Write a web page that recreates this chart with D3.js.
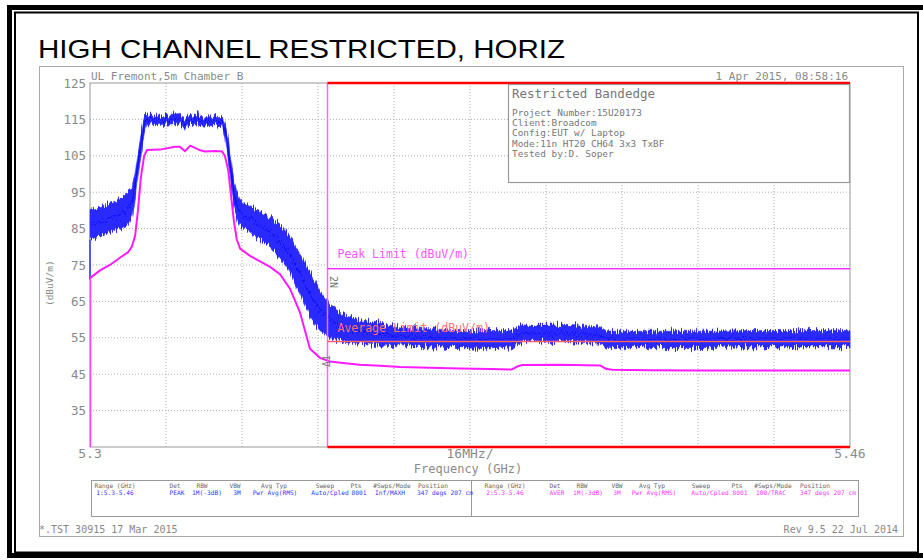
<!DOCTYPE html>
<html>
<head>
<meta charset="utf-8">
<script src="https://cdn.jsdelivr.net/npm/d3@7"></script>
<style>
  body { margin: 0; background: #fff; }
  .mono { font-family: "DejaVu Sans Mono", "Liberation Mono", monospace; }
</style>
</head>
<body>
<svg id="chart" width="923" height="560"></svg>
<script>
// frequency points (GHz)
var freqs = [5.3, 5.3021, 5.3042, 5.3063, 5.308, 5.3088, 5.3095, 5.3101, 5.3107, 5.3114, 5.312,
  5.3147, 5.3179, 5.3189, 5.32, 5.3211, 5.3232, 5.3242, 5.3263, 5.3278, 5.3284, 5.3291, 5.3297,
  5.3303, 5.3309, 5.3316, 5.3337, 5.3358, 5.3379, 5.34, 5.3421, 5.3442, 5.3463, 5.3484, 5.3505,
  5.3537, 5.3568, 5.3611, 5.3653, 5.3716, 5.3779, 5.3842, 5.3888, 5.3901, 5.391, 5.399, 5.4074,
  5.4086, 5.4099, 5.4179, 5.4284, 5.439, 5.4495, 5.46];

// peak trace (blue) envelope, dBuV/m
var peakLow = [82, 83, 84, 85, 86, 88, 93, 99, 105, 111, 113.5,
  113.6, 113.8, 113.8, 112, 114, 113.6, 113.4, 113.2, 113, 110, 104, 97,
  91, 88, 86, 84, 82, 80, 77, 73, 67, 61, 57, 55,
  54, 53.5, 53, 52.8, 52.5, 52.3, 52, 52.2, 53.5, 54, 54, 53.5,
  52.5, 52.3, 52.3, 52.3, 52.5, 52.5, 52.5];
var peakHigh = [90, 91, 92, 93, 95, 96, 100, 106, 111, 115.5, 116.2,
  116.2, 116.5, 116.6, 114.5, 116.6, 116.2, 115.8, 115.6, 115.5, 114, 110, 104,
  98, 95, 93, 91, 90, 88, 86, 83, 78, 73, 68, 64,
  61, 60, 59, 58, 57.5, 57, 57, 57, 58, 58.5, 58.5, 58,
  57, 56.8, 56.8, 56.8, 57, 57, 57];

// average trace (magenta), dBuV/m
var avgTrace = [71.4, 73.5, 75, 77, 78.5, 80, 83, 90, 99, 105, 106.6,
  106.7, 107.5, 107.5, 106.3, 107.8, 106.5, 106.2, 106.3, 106.2, 105, 101, 94,
  87, 82, 79.5, 77.5, 76, 74.5, 72.5, 68.5, 62, 52, 49.5, 48.5,
  48, 47.6, 47.3, 47, 46.8, 46.6, 46.4, 46.3, 47.2, 47.5, 47.6, 47.4,
  46.5, 46.2, 46.1, 46, 46, 46, 46];

var yTicks = [125, 115, 105, 95, 85, 75, 65, 55, 45, 35];
var xGrid = [5.316, 5.332, 5.348, 5.364, 5.38, 5.396, 5.412, 5.428, 5.444];

var peakLimit = 74;
var avgLimit = 54;
var bandStart = 5.35;
var bandEnd = 5.46;

var infoLines = ['Project Number:15U20173', 'Client:Broadcom', 'Config:EUT w/ Laptop',
  'Mode:11n HT20 CH64 3x3 TxBF', 'Tested by:D. Soper'];

var tableHeaders = ['Range (GHz)', 'Det', 'RBW', 'VBW', 'Avg Typ', 'Sweep', 'Pts', '#Swps/Mode', 'Position'];
var trace1Row = ['1:5.3-5.46', 'PEAK', '1M(-3dB)', '3M', 'Pwr Avg(RMS)', 'Auto/Cpled', '8001', 'Inf/MAXH', '347 degs 207 cm'];
var trace2Row = ['2:5.3-5.46', 'AVER', '1M(-3dB)', '3M', 'Pwr Avg(RMS)', 'Auto/Cpled', '8001', '100/TRAC', '347 degs 207 cm'];

var svg = d3.select('#chart');

// page frame
svg.append('rect').attr('x', 9.5).attr('y', 7.5).attr('width', 918).attr('height', 548)
  .attr('fill', 'none').attr('stroke', '#000').attr('stroke-width', 5);
svg.append('rect').attr('x', 15).attr('y', 12.5).attr('width', 903).attr('height', 540)
  .attr('fill', 'none').attr('stroke', '#000').attr('stroke-width', 2);

svg.append('text').attr('x', 38).attr('y', 58)
  .attr('font-family', 'Liberation Sans, Arial, sans-serif').attr('font-size', 26)
  .attr('textLength', 527).attr('lengthAdjust', 'spacingAndGlyphs')
  .text('HIGH CHANNEL RESTRICTED, HORIZ');

// analyzer screenshot border
svg.append('rect').attr('x', 39.5).attr('y', 66.5).attr('width', 864).attr('height', 470)
  .attr('fill', 'none').attr('stroke', '#aaa').attr('stroke-width', 1);

var x = d3.scaleLinear().domain([5.3, 5.46]).range([90, 850]);
var y = d3.scaleLinear().domain([25, 125]).range([447, 83]);

var grid = svg.append('g');
grid.selectAll('.hg').data(yTicks.slice(1)).enter().append('line')
  .attr('x1', x(5.3)).attr('x2', x(5.46))
  .attr('y1', function(d) { return y(d); }).attr('y2', function(d) { return y(d); })
  .attr('stroke', '#999').attr('stroke-width', 0.8).attr('stroke-dasharray', '1,2');
grid.selectAll('.vg').data(xGrid).enter().append('line')
  .attr('x1', function(d) { return x(d); }).attr('x2', function(d) { return x(d); })
  .attr('y1', y(125)).attr('y2', y(25))
  .attr('stroke', '#999').attr('stroke-width', 0.8).attr('stroke-dasharray', '1,2');

svg.append('rect').attr('x', x(5.3)).attr('y', y(125))
  .attr('width', x(5.46) - x(5.3)).attr('height', y(25) - y(125))
  .attr('fill', 'none').attr('stroke', '#999').attr('stroke-width', 1);

// y axis labels
var yAxis = d3.axisLeft(y).tickValues(yTicks).tickSize(0).tickPadding(4);
var ya = svg.append('g').attr('transform', 'translate(' + x(5.3) + ',0)').call(yAxis);
ya.select('.domain').remove();
ya.selectAll('text').attr('class', 'mono').attr('font-size', 12.5).attr('fill', '#8a8a8a');

svg.append('text').attr('class', 'mono').attr('font-size', 9.5).attr('fill', '#888')
  .attr('text-anchor', 'middle')
  .attr('transform', 'translate(53,' + y(70) + ') rotate(-90)').text('(dBuV/m)');

// header texts
svg.append('text').attr('class', 'mono').attr('font-size', 11).attr('fill', '#8a8a8a')
  .attr('x', 91).attr('y', 80).text('UL Fremont,5m Chamber B');
svg.append('text').attr('class', 'mono').attr('font-size', 11).attr('fill', '#8a8a8a')
  .attr('x', 848).attr('y', 80).attr('text-anchor', 'end').text('1 Apr 2015,  08:58:16');

// x axis labels
var xl = svg.append('g').attr('class', 'mono').attr('fill', '#8a8a8a').attr('font-size', 13);
xl.append('text').attr('x', x(5.3)).attr('y', 458).attr('text-anchor', 'middle').text('5.3');
xl.append('text').attr('x', x(5.38)).attr('y', 458).attr('text-anchor', 'middle').text('16MHz/');
xl.append('text').attr('x', x(5.46)).attr('y', 458).attr('text-anchor', 'middle').text('5.46');
xl.append('text').attr('x', x(5.38) - 2).attr('y', 473).attr('text-anchor', 'middle')
  .attr('font-size', 12).text('Frequency (GHz)');

// noise texture for the peak trace
var defs = svg.append('defs');
var filt = defs.append('filter').attr('id', 'noisy')
  .attr('x', '-2%').attr('y', '-10%').attr('width', '104%').attr('height', '120%');
filt.append('feTurbulence').attr('type', 'fractalNoise').attr('baseFrequency', '0.8 0.03')
  .attr('numOctaves', 2).attr('seed', 7).attr('result', 'turb');
filt.append('feColorMatrix').attr('in', 'turb').attr('type', 'matrix')
  .attr('values', '0 0 0 0 0.5  0 1 0 0 0  0 0 0 0 0  0 0 0 0 1').attr('result', 'disp');
filt.append('feDisplacementMap').attr('in', 'SourceGraphic').attr('in2', 'disp')
  .attr('scale', 14).attr('xChannelSelector', 'R').attr('yChannelSelector', 'G');

var idx = d3.range(freqs.length);
var plot = svg.append('g');

var peakArea = d3.area()
  .x(function(i) { return x(freqs[i]); })
  .y0(function(i) { return y(peakLow[i]); })
  .y1(function(i) { return y(peakHigh[i]); });
plot.append('path').datum(idx).attr('d', peakArea)
  .attr('fill', '#2a2aff').attr('stroke', '#2a2aff').attr('stroke-width', 0.6)
  .attr('filter', 'url(#noisy)');
var peakMid = d3.line()
  .x(function(i) { return x(freqs[i]); })
  .y(function(i) { return y((peakLow[i] + peakHigh[i]) / 2); });
plot.append('path').datum(idx).attr('d', peakMid)
  .attr('fill', 'none').attr('stroke', '#0a0af0').attr('stroke-width', 1)
  .attr('filter', 'url(#noisy)');
plot.append('line').attr('x1', x(5.3)).attr('x2', x(5.3))
  .attr('y1', y(71)).attr('y2', y(peakLow[0])).attr('stroke', '#3030ff').attr('stroke-width', 1.5);

var avgLine = d3.line()
  .x(function(i) { return x(freqs[i]); })
  .y(function(i) { return y(avgTrace[i]); });
plot.append('path').datum(idx).attr('d', avgLine)
  .attr('fill', 'none').attr('stroke', '#ff1aff').attr('stroke-width', 2);
plot.append('line').attr('x1', x(5.3) + 0.5).attr('x2', x(5.3) + 0.5)
  .attr('y1', y(25)).attr('y2', y(avgTrace[0])).attr('stroke', '#ff40ff').attr('stroke-width', 1.5);

// restricted band lines
svg.append('line').attr('x1', x(bandStart)).attr('x2', x(bandStart))
  .attr('y1', y(125)).attr('y2', y(25)).attr('stroke', '#ff66ff').attr('stroke-width', 1.5);
svg.append('line').attr('x1', x(bandStart)).attr('x2', x(bandEnd))
  .attr('y1', y(125)).attr('y2', y(125)).attr('stroke', '#ff0000').attr('stroke-width', 2.5);
svg.append('line').attr('x1', x(bandStart)).attr('x2', x(bandEnd))
  .attr('y1', y(25)).attr('y2', y(25)).attr('stroke', '#ff0000').attr('stroke-width', 2.5);
svg.append('line').attr('x1', x(bandStart)).attr('x2', x(bandEnd))
  .attr('y1', y(peakLimit)).attr('y2', y(peakLimit)).attr('stroke', '#ff33ff').attr('stroke-width', 1.5);
svg.append('line').attr('x1', x(bandStart)).attr('x2', x(bandEnd))
  .attr('y1', y(avgLimit)).attr('y2', y(avgLimit)).attr('stroke', '#ff6060').attr('stroke-width', 1.5);

svg.append('text').attr('class', 'mono').attr('font-size', 11.5).attr('fill', '#ff55ff')
  .attr('x', x(bandStart) + 10).attr('y', y(peakLimit) - 11).text('Peak Limit (dBuV/m)');
svg.append('text').attr('class', 'mono').attr('font-size', 11.5).attr('fill', '#ff7070')
  .attr('x', x(bandStart) + 10).attr('y', y(avgLimit) - 9).text('Average Limit (dBuV/m)');

// marker tags
svg.append('text').attr('class', 'mono').attr('font-size', 10).attr('fill', '#777')
  .attr('transform', 'translate(' + (x(bandStart) + 2) + ',' + y(72) + ') rotate(90)').text('2N');
svg.append('text').attr('class', 'mono').attr('font-size', 10).attr('fill', '#777')
  .attr('transform', 'translate(' + (x(bandStart) + 2) + ',' + y(47) + ') rotate(-90)').text('\u03941');

// info box
var info = svg.append('g');
info.append('rect').attr('x', 508.5).attr('y', 84.5).attr('width', 341).attr('height', 98)
  .attr('fill', '#fff').attr('stroke', '#999').attr('stroke-width', 1.2);
info.append('text').attr('class', 'mono').attr('font-size', 12.5).attr('fill', '#777')
  .attr('x', 512).attr('y', 98).text('Restricted Bandedge');
info.selectAll('.il').data(infoLines).enter().append('text').attr('class', 'mono')
  .attr('font-size', 9.4).attr('fill', '#777').attr('x', 512)
  .attr('y', function(d, i) { return 116 + i * 10.2; }).text(function(d) { return d; });

// settings table
var tbl = svg.append('g').attr('class', 'mono');
tbl.append('rect').attr('x', 91.5).attr('y', 480.5).attr('width', 767).attr('height', 36)
  .attr('fill', 'none').attr('stroke', '#999');
tbl.append('line').attr('x1', 471.5).attr('x2', 471.5).attr('y1', 480.5).attr('y2', 516.5)
  .attr('stroke', '#999');
var leftHead = [115, 175, 202, 235, 274, 325, 356, 392, 433];
var leftVal = [115, 177, 207, 237, 275, 330, 359, 390, 445];
var rightHead = [505, 555, 582, 617, 652, 701, 737, 773, 815];
var rightVal = [505, 557, 588, 617, 654, 710, 740, 771, 828];
function tableRow(xs, labels, yy, color) {
  tbl.append('g').selectAll('text').data(labels).enter().append('text')
    .attr('x', function(d, i) { return xs[i]; }).attr('y', yy)
    .attr('text-anchor', 'middle').attr('font-size', 6.2).attr('fill', color)
    .text(function(d) { return d; });
}
tableRow(leftHead, tableHeaders, 487.5, '#666');
tableRow(leftVal, trace1Row, 494.5, '#3333ff');
tableRow(rightHead, tableHeaders, 487.5, '#666');
tableRow(rightVal, trace2Row, 494.5, '#ff33ff');

// footer
svg.append('text').attr('class', 'mono').attr('font-size', 10).attr('fill', '#888')
  .attr('x', 39).attr('y', 533).text('*.TST 30915 17 Mar 2015');
svg.append('text').attr('class', 'mono').attr('font-size', 10).attr('fill', '#888')
  .attr('x', 898).attr('y', 533).attr('text-anchor', 'end').text('Rev 9.5 22 Jul 2014');
</script>
</body>
</html>
